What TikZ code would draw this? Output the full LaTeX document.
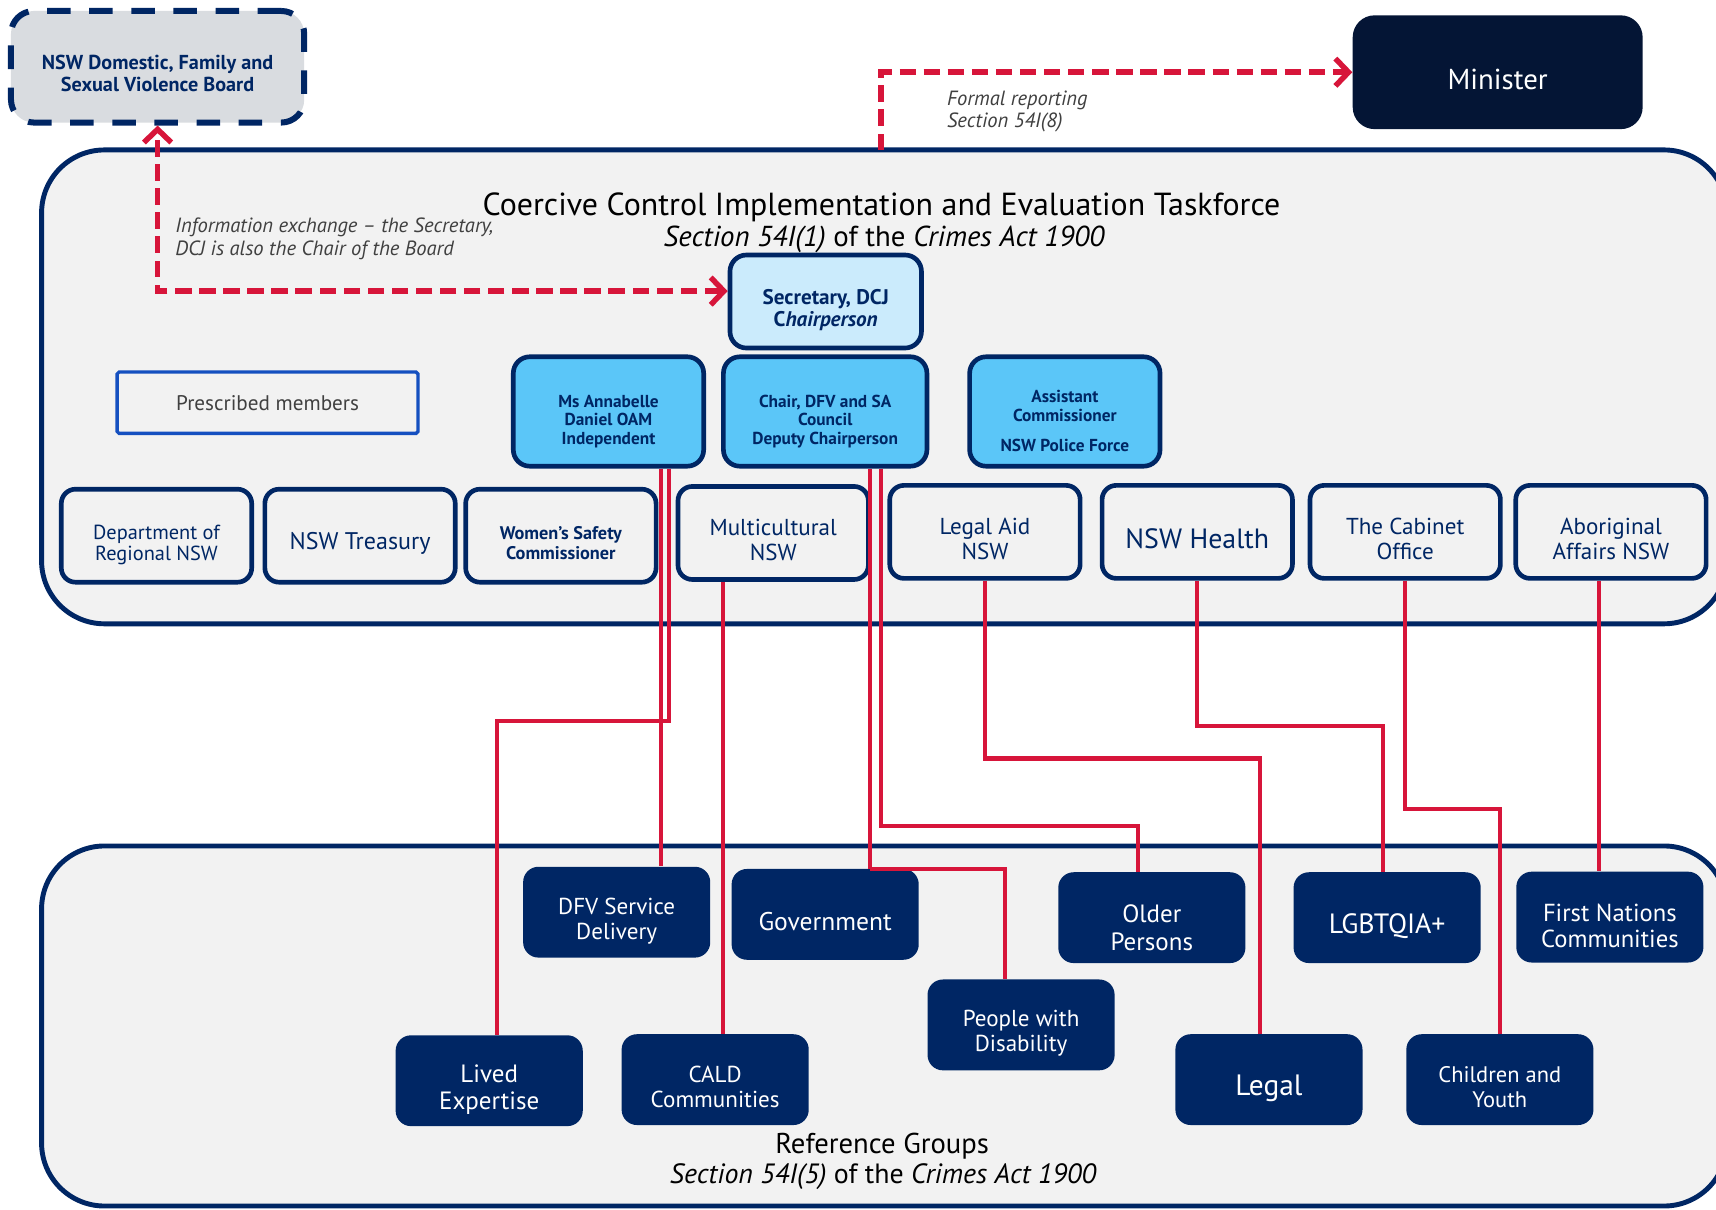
\documentclass[tikz,border=0pt]{standalone}
\usepackage{fontspec}
\setmainfont{PT Sans}
\usetikzlibrary{arrows.meta}

\definecolor{navy}{HTML}{002664}
\definecolor{darknavy}{HTML}{041535}
\definecolor{nswred}{HTML}{D7153A}
\definecolor{panel}{HTML}{F2F2F2}
\definecolor{boardgrey}{HTML}{D9DCE0}
\definecolor{paleblue}{HTML}{CBEBFC}
\definecolor{skyblue}{HTML}{5BC6F8}
\definecolor{keyblue}{HTML}{1550C0}
\definecolor{notegrey}{HTML}{404040}
\newcommand\fs[2]{\fontsize{#1}{#2}\selectfont}
% pushes the text of a box a little below its middle
\newcommand\dn[1][8pt]{\rule{0pt}{\dimexpr0.72em+#1\relax}}

\begin{document}
\begin{tikzpicture}[x=0.02cm, y=-0.02cm,
  panelbox/.style={draw=navy, line width=0.09cm, fill=panel, rounded corners=1.15cm},
  boardbox/.style={draw=navy, line width=0.11cm, dash pattern=on 0.43cm off 0.34cm, fill=boardgrey, rounded corners=0.42cm, minimum width=5.36cm, minimum height=2.04cm, text=navy, align=center, font=\fs{10.5}{11.5}\bfseries},
  member/.style={draw=navy, line width=0.085cm, fill=panel, rounded corners=0.26cm, minimum width=3.48cm, minimum height=1.7cm, text=navy, align=center, inner sep=1pt},
  keymember/.style={member, fill=skyblue, minimum height=2cm, rounded corners=0.3cm, font=\fs{9}{9.6}\bfseries},
  refgroup/.style={fill=navy, rounded corners=0.28cm, minimum width=3.42cm, minimum height=1.66cm, text=white, align=center, inner sep=1pt},
  link/.style={draw=nswred, line width=0.075cm},
  report/.style={draw=nswred, line width=0.1cm, dash pattern=on 0.3cm off 0.14cm, -{Straight Barb[length=0.24cm, width=0.5cm]}},
  exchange/.style={report, {Straight Barb[length=0.24cm, width=0.5cm]}-{Straight Barb[length=0.24cm, width=0.5cm]}},
  note/.style={text=notegrey, align=left, anchor=west, inner sep=0pt, font=\fs{10.7}{11.8}\itshape}
]
\useasboundingbox (0,0) rectangle (1568,1105);
\clip (0,0) rectangle (1568,1105);
\fill[white] (0,0) rectangle (1568,1105);

% panels
\draw[panelbox] (38,137) rectangle (1578,570);
\draw[panelbox] (38,773) rectangle (1578,1102);

\node (title) at (805.5,189) {\fs{16.6}{18}Coercive Control Implementation and Evaluation Taskforce};
\node (titlesub) at (808,219) {\fs{15}{18}\textit{Section 54I(1)} of the \textit{Crimes Act 1900}};
\node (reflabel) at (806,1047.5) {\fs{14.9}{16}Reference Groups};
\node (refsub) at (807,1075) {\fs{14.5}{16}\textit{Section 54I(5)} of the \textit{Crimes Act 1900}};

\node[boardbox] (board) at (144,61) {\dn[6.8pt]NSW Domestic, Family and\\Sexual Violence Board};
\node[fill=darknavy, rounded corners=0.4cm, minimum width=5.3cm, minimum height=2.08cm, text=white, font=\fs{15}{18}] (minister) at (1368.5,66) {\dn[7.5pt]Minister};

\node[member, fill=paleblue, minimum width=3.5cm, rounded corners=0.3cm, font=\fs{11}{11.5}\bfseries] (secretary) at (754.5,275.5) {\dn[8.5pt]Secretary, DCJ\\C\textit{hairperson}};
\node[draw=keyblue, line width=0.06cm, rounded corners=1pt, minimum width=5.5cm, minimum height=1.12cm, text=notegrey, font=\fs{11}{13}] (prescribed) at (244.5,368) {Prescribed members};

\node[keymember] (annabelle) at (556,376) {\dn[10pt]Ms Annabelle\\Daniel OAM\\Independent};
\node[keymember, minimum width=3.72cm] (chair) at (754,376) {\dn[10pt]Chair, DFV and SA\\Council\\Deputy Chairperson};
\node[keymember] (assistant) at (973,376) {\dn[10pt]Assistant\\Commissioner\\[6pt]NSW Police Force};

% prescribed members
\node[member, font=\fs{10.6}{10.9}] (regional) at (143,489.5) {\dn[9pt]Department of\\Regional NSW};
\node[member, font=\fs{12.5}{13}] (treasury) at (329,489.5) {\dn[8pt]NSW Treasury};
\node[member, font=\fs{9.5}{10.3}\bfseries] (womens) at (512.5,489.5) {\dn[8pt]Women’s Safety\\Commissioner};
\node[member, font=\fs{12}{13}] (multicultural) at (706.5,487) {\dn[7.5pt]Multicultural\\NSW};
\node[member, font=\fs{12}{13}] (legalaid) at (900,486) {\dn[7.5pt]Legal Aid\\NSW};
\node[member, font=\fs{14.5}{15}] (health) at (1094,486) {\dn[7.5pt]NSW Health};
\node[member, font=\fs{12}{13}] (cabinet) at (1284,486) {\dn[7.5pt]The Cabinet\\Office};
\node[member, font=\fs{12}{13}] (aboriginal) at (1472,486) {\dn[7.5pt]Aboriginal\\Affairs NSW};

% reference groups
\node[refgroup, font=\fs{12}{13}] (dfv) at (563.5,833.5) {\dn[9.5pt]DFV Service\\Delivery};
\node[refgroup, font=\fs{13.3}{14}] (government) at (754,835.5) {\dn[7pt]Government};
\node[refgroup, font=\fs{13}{14.5}] (older) at (1052.5,838.5) {\dn[10pt]Older\\Persons};
\node[refgroup, font=\fs{14.5}{15}] (lgbtqia) at (1267.5,838.5) {\dn[8.5pt]LGBTQIA+};
\node[refgroup, font=\fs{12.8}{13.5}] (firstnations) at (1471,838) {\dn[9pt]First Nations\\Communities};
\node[refgroup, font=\fs{12}{13}] (disability) at (933,936.5) {\dn People with\\Disability};
\node[refgroup, font=\fs{13}{14}] (lived) at (447,987.5) {\dn[9pt]Lived\\Expertise};
\node[refgroup, font=\fs{12}{13}] (cald) at (653.5,986.5) {\dn CALD\\Communities};
\node[refgroup, font=\fs{15.3}{16}] (legal) at (1159.5,986.5) {\dn[8.5pt]Legal};
\node[refgroup, font=\fs{11.7}{13}] (children) at (1370.5,986.5) {\dn[7.5pt]Children and\\Youth};

% reporting lines
\coordinate (rep) at (805,137);
\coordinate (sec) at ([yshift=0.19cm]secretary.west);
\draw[report] (rep) |- (minister.west);
\draw[exchange] (sec) -| (board.south);
\node[note] (reportnote) at (865,102) {Formal reporting\\Section 54I(8)};
\node[note] (exchangenote) at (160,218) {Information exchange -- the Secretary,\\DCJ is also the Chair of the Board};

% links to reference groups
\coordinate (a1) at ([xshift=0.96cm]annabelle.south);
\coordinate (a2) at ([xshift=1.1cm]annabelle.south);
\coordinate (m1) at ([xshift=-0.91cm]multicultural.south);
\coordinate (c1) at ([xshift=0.82cm]chair.south);
\coordinate (c2) at ([xshift=1.02cm]chair.south);
\coordinate (ab1) at ([xshift=-0.22cm]aboriginal.south);
\draw[link] (a1) -- (a1 |- dfv.north);
\draw[link] (a2) -- ++(0,231) -| ([xshift=0.14cm]lived.north);
\draw[link] (m1) -- (m1 |- cald.north);
\draw[link] (c1) -- (c1 |- government.north);
\draw[link] (c1 |- government.north) -| ([xshift=-0.3cm]disability.north);
\draw[link] (c2) -- ++(0,327) -| ([xshift=-0.25cm]older.north);
\draw[link] (legalaid.south) -- ++(0,162.5) -| ([xshift=-0.17cm]legal.north);
\draw[link] (health.south) -- ++(0,133) -| ([xshift=-0.07cm]lgbtqia.north);
\draw[link] (cabinet.south) -- ++(0,208.5) -| (children.north);
\draw[link] (ab1) -- (ab1 |- firstnations.north);
\end{tikzpicture}
\end{document}
